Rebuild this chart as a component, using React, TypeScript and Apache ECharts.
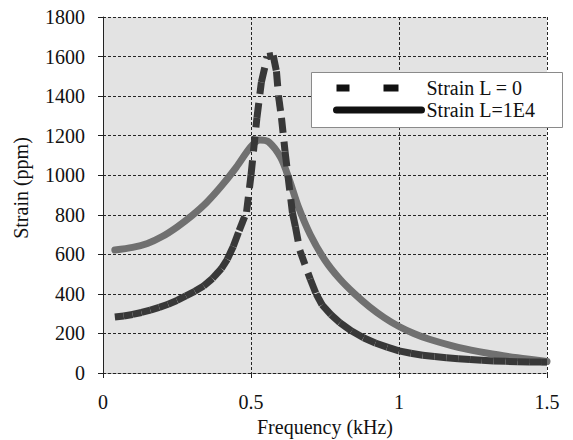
import React, { useEffect, useRef } from 'react';
import * as echarts from 'echarts';

// Strain L = 0 (dashed curve), frequency in kHz, strain in ppm
const FREQ_L0 = [
  0.04, 0.07, 0.1, 0.13, 0.16, 0.19, 0.22, 0.25, 0.28, 0.31, 0.34, 0.37, 0.4, 0.42, 0.44, 0.46,
  0.485, 0.5, 0.52, 0.535, 0.555, 0.575, 0.586, 0.593, 0.603, 0.615, 0.64, 0.65, 0.665, 0.7,
  0.72, 0.74, 0.77, 0.8, 0.84, 0.88, 0.92, 0.96, 1.0, 1.04, 1.08, 1.12, 1.16, 1.2, 1.24, 1.28,
  1.32, 1.36, 1.4, 1.44, 1.48, 1.5,
];
const STRAIN_L0 = [
  283, 288, 296, 306, 318, 332, 348, 367, 390, 413, 440, 478, 528, 575, 640, 720,
  815, 1000, 1290, 1470, 1600, 1605, 1525, 1400, 1290, 1120, 810, 740, 620, 475,
  400, 345, 295, 255, 212, 178, 152, 131, 112, 100, 90, 83, 77, 72, 68, 64,
  61, 59, 57, 56, 55, 55,
];

// Strain L=1E4 (solid curve)
const FREQ_L1E4 = [
  0.04, 0.1, 0.15, 0.2, 0.25, 0.3, 0.35, 0.4, 0.45, 0.5, 0.53, 0.56, 0.6, 0.63, 0.66, 0.7,
  0.75, 0.8, 0.85, 0.9, 0.95, 1.0, 1.05, 1.1, 1.2, 1.3, 1.4, 1.5,
];
const STRAIN_L1E4 = [
  622, 635, 655, 690, 738, 795, 862, 945, 1040, 1145, 1178, 1168, 1090, 975, 840, 700,
  570, 475, 400, 335, 280, 235, 200, 172, 130, 100, 77, 58,
];

const SERIES_NAMES = ['Strain L = 0', 'Strain L=1E4'];
const X_AXIS_TITLE = 'Frequency (kHz)';
const Y_AXIS_TITLE = 'Strain (ppm)';

const FONT = "'Liberation Serif', 'Times New Roman', serif";

export default function App() {
  const ref = useRef<HTMLDivElement>(null);

  useEffect(() => {
    if (!ref.current) return;
    const chart = echarts.init(ref.current, null, { renderer: 'svg' });

    const dashedData = FREQ_L0.map((f, i) => [f, STRAIN_L0[i]]);
    const solidData = FREQ_L1E4.map((f, i) => [f, STRAIN_L1E4[i]]);

    const gridLine = { show: true, lineStyle: { color: '#262626', width: 1, type: [3, 2] as any } };

    const option: any = {
      animation: false,
      backgroundColor: '#ffffff',
      textStyle: { fontFamily: FONT },
      grid: {
        left: 103,
        right: 26,
        top: 17,
        bottom: 67,
        show: true,
        backgroundColor: '#e3e3e3',
        borderWidth: 0,
        outerBoundsMode: 'none',
      },
      graphic: {
        elements: [
          {
            type: 'rect',
            z: 20,
            left: 311,
            top: 72,
            shape: { width: 251, height: 55 },
            style: { fill: '#ffffff', stroke: '#8a8a8a', lineWidth: 1 },
          },
        ],
      },
      legend: {
        orient: 'vertical',
        left: 311,
        top: 72,
        z: 30,
        padding: [6, 20, 7, 22],
        backgroundColor: 'transparent',
        borderWidth: 0,
        itemWidth: 85,
        itemHeight: 7,
        itemGap: 2,
        textStyle: { fontFamily: FONT, fontSize: 20, color: '#111', lineHeight: 20 },
        data: [
          {
            name: SERIES_NAMES[0],
            icon: 'path://M0,0L85,0L0,0Z M0,0h13v7h-13Z M47,0h15v7h-15Z',
            itemStyle: { color: '#111' },
          },
          {
            name: SERIES_NAMES[1],
            itemStyle: { color: '#111' },
            lineStyle: { color: '#111', width: 7, cap: 'round' },
          },
        ],
      },
      xAxis: {
        type: 'value',
        min: 0,
        max: 1.5,
        interval: 0.5,
        name: X_AXIS_TITLE,
        nameLocation: 'middle',
        nameGap: 44,
        nameTextStyle: { fontFamily: FONT, fontSize: 20, color: '#111' },
        axisLine: { show: true, onZero: false, lineStyle: { color: '#222', width: 1, type: [3, 2] } },
        axisTick: { show: true, length: 5, lineStyle: { color: '#222' } },
        axisLabel: { fontFamily: FONT, fontSize: 20, color: '#111', margin: 19 },
        splitLine: gridLine,
      },
      yAxis: {
        type: 'value',
        min: 0,
        max: 1800,
        interval: 200,
        name: Y_AXIS_TITLE,
        nameLocation: 'middle',
        nameGap: 72,
        nameTextStyle: { fontFamily: FONT, fontSize: 20, color: '#111', padding: [0, 0, 0, 14] },
        axisLine: { show: true, lineStyle: { color: '#222', width: 1, type: [3, 2] } },
        axisTick: { show: true, length: 5, lineStyle: { color: '#222' } },
        axisLabel: {
          fontFamily: FONT,
          fontSize: 20,
          color: '#111',
          margin: 18,
          formatter: (v: number) => String(v),
        },
        splitLine: gridLine,
      },
      series: [
        {
          name: SERIES_NAMES[1],
          type: 'line',
          data: solidData,
          smooth: 0.3,
          symbol: 'none',
          showSymbol: false,
          lineStyle: { color: '#707070', width: 7, cap: 'round', join: 'round' },
          itemStyle: { color: '#707070' },
          z: 2,
        },
        {
          name: SERIES_NAMES[0],
          type: 'custom',
          data: dashedData,
          encode: { x: 0, y: 1 },
          itemStyle: { color: '#333' },
          z: 3,
          renderItem: (params: any, api: any) => {
            const i = params.dataIndex;
            if (i >= FREQ_L0.length - 1) return { type: 'group', children: [] };
            const a = api.coord([FREQ_L0[i], STRAIN_L0[i]]);
            const b = api.coord([FREQ_L0[i + 1], STRAIN_L0[i + 1]]);
            return {
              type: 'line',
              shape: { x1: a[0], y1: a[1], x2: b[0], y2: b[1] },
              style: {
                stroke: '#383838',
                lineWidth: 7,
                lineDash: [15, 9],
                lineCap: 'butt',
                fill: null,
              },
            };
          },
        },
      ],
    };

    chart.setOption(option);
    return () => chart.dispose();
  }, []);

  return (
    <div
      ref={ref}
      style={{ position: 'absolute', left: 0, top: 0, width: 573, height: 440, background: '#fff' }}
    />
  );
}
